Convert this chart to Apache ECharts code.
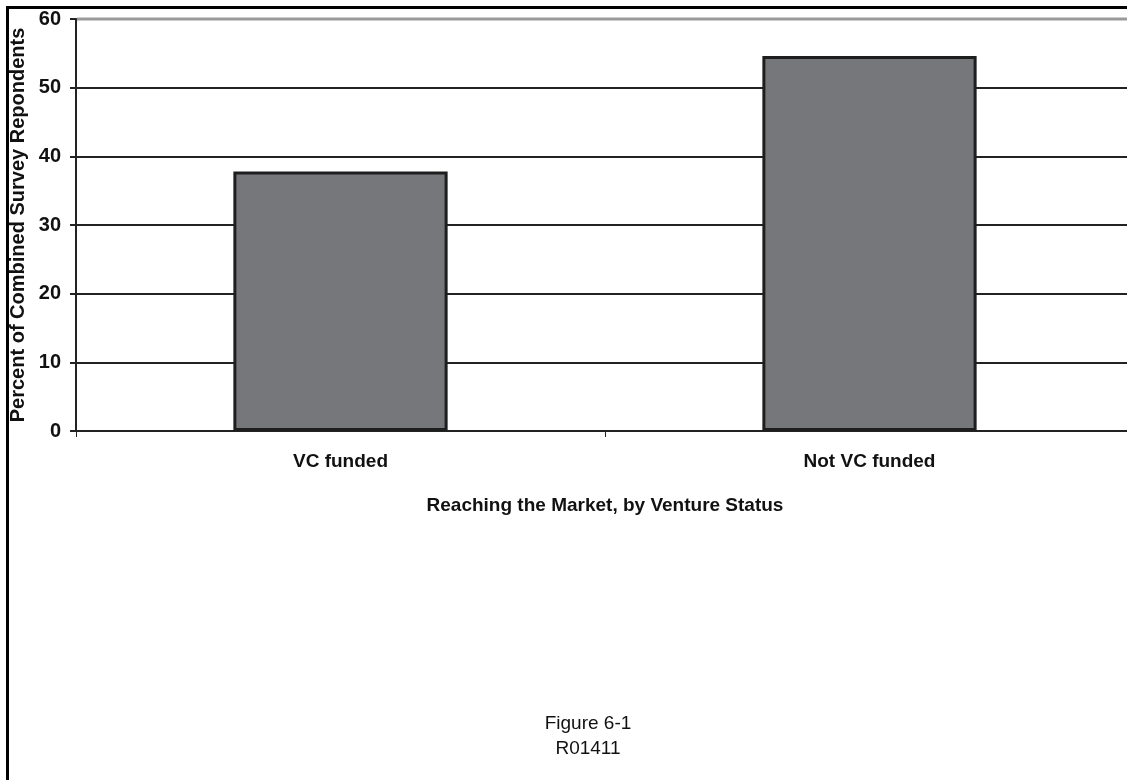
<!DOCTYPE html>
<html>
<head>
<meta charset="utf-8">
<script src="https://cdn.jsdelivr.net/npm/echarts@6/dist/echarts.min.js"></script>
<style>
  html, body { margin: 0; padding: 0; background: #fff; }
  #chart { width: 1127px; height: 780px; }
</style>
</head>
<body>
<div id="chart"></div>
<script>
const categories = ['VC funded', 'Not VC funded'];
const percentValues = [37.8, 54.6];
const yTicks = [0, 10, 20, 30, 40, 50, 60];

const font = '"Liberation Sans", Arial, Helvetica, sans-serif';
const chart = echarts.init(document.getElementById('chart'));

chart.setOption({
  backgroundColor: '#fff',
  animation: false,
  grid: { left: 76, right: -7, top: 19, bottom: 349, containLabel: false, outerBoundsMode: 'none' },
  xAxis: {
    type: 'category',
    data: categories,
    name: 'Reaching the Market, by Venture Status',
    nameLocation: 'middle',
    nameGap: 65,
    nameTextStyle: { fontFamily: font, fontWeight: 'bold', fontSize: 19, color: '#111' },
    axisLine: { lineStyle: { color: '#222', width: 2 } },
    axisTick: { show: true, length: 6, lineStyle: { color: '#222', width: 1 } },
    axisLabel: { fontFamily: font, fontWeight: 'bold', fontSize: 19, color: '#111', margin: 21 }
  },
  yAxis: {
    type: 'value',
    min: 0,
    max: 60,
    interval: 10,
    name: 'Percent of Combined Survey Repondents',
    nameLocation: 'middle',
    nameGap: 48,
    nameMoveOverlap: false,
    nameTextStyle: { fontFamily: font, fontWeight: 'bold', fontSize: 20, color: '#111' },
    axisLine: { show: true, lineStyle: { color: '#222', width: 2 } },
    axisTick: { show: true, length: 6, lineStyle: { color: '#222', width: 2 } },
    axisLabel: { fontFamily: font, fontWeight: 'bold', fontSize: 20, color: '#111', margin: 15 },
    splitLine: {
      show: true,
      lineStyle: {
        color: yTicks.map((t, i) => (i === yTicks.length - 1 ? '#9a9a9a' : '#222')),
        width: 2
      }
    }
  },
  series: [{
    type: 'bar',
    data: percentValues,
    barWidth: '40.5%',
    itemStyle: { color: '#76777b', borderColor: '#1e1e1e', borderWidth: 3 }
  }],
  graphic: [
    { type: 'rect', shape: { x: 6, y: 6, width: 1121, height: 3 }, style: { fill: '#000' } },
    { type: 'rect', shape: { x: 6, y: 6, width: 3, height: 774 }, style: { fill: '#000' } },
    { type: 'rect', shape: { x: 77, y: 17.5, width: 1050, height: 3 }, style: { fill: '#9a9a9a' }, z: 10 },
    {
      type: 'text', x: 588, y: 724,
      style: { text: 'Figure 6-1', fontFamily: font, fontSize: 19, fill: '#111', align: 'center', verticalAlign: 'middle' }
    },
    {
      type: 'text', x: 588, y: 749,
      style: { text: 'R01411', fontFamily: font, fontSize: 19, fill: '#111', align: 'center', verticalAlign: 'middle' }
    }
  ]
});
</script>
</body>
</html>
